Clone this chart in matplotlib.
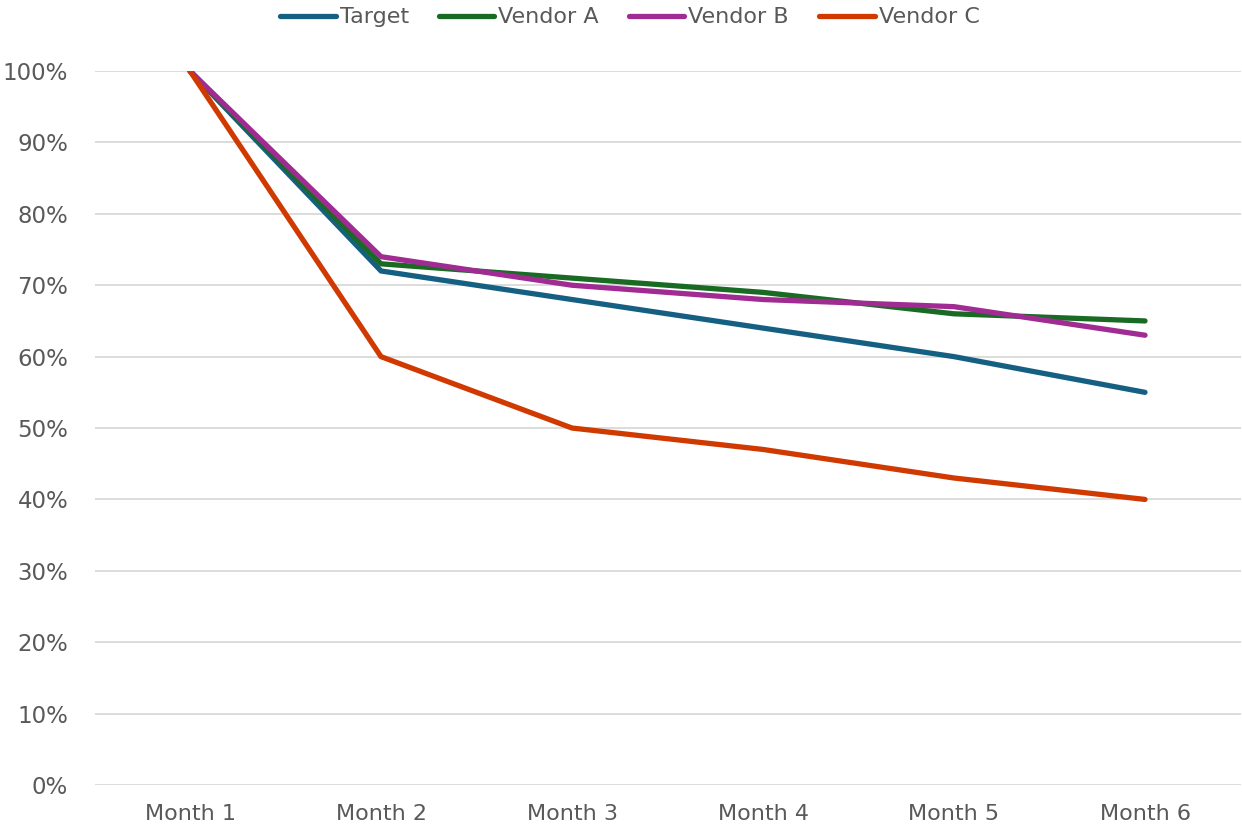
import matplotlib
matplotlib.use('Agg')
import matplotlib.pyplot as plt
from matplotlib.ticker import PercentFormatter

# ── DONNEES ────────────────────────────────────────────
months = ["Month 1", "Month 2", "Month 3", "Month 4", "Month 5", "Month 6"]
target   = [1.00, 0.72, 0.68, 0.64, 0.60, 0.55]
vendor_a = [1.00, 0.73, 0.71, 0.69, 0.66, 0.65]
vendor_b = [1.00, 0.74, 0.70, 0.68, 0.67, 0.63]
vendor_c = [1.00, 0.60, 0.50, 0.47, 0.43, 0.40]

series = [("Target", target, "#156082"),
          ("Vendor A", vendor_a, "#196B24"),
          ("Vendor B", vendor_b, "#A02B93"),
          ("Vendor C", vendor_c, "#D03A00")]

fig = plt.figure(figsize=(12.42, 8.36), dpi=100)
ax = fig.add_axes([0.0761, 0.061, 0.9227, 0.854])

x = list(range(len(months)))
for name, vals, col in series:
    ax.plot(x, vals, color=col, linewidth=3.8, label=name,
            solid_capstyle='round', solid_joinstyle='round')

ax.set_xlim(-0.5, len(months) - 0.5)
ax.set_ylim(0, 1.0)
ax.set_yticks([i / 10 for i in range(11)])
ax.yaxis.set_major_formatter(PercentFormatter(1.0, decimals=0))
ax.set_xticks(x)
ax.set_xticklabels(months)
ax.grid(axis='y', color='#d9d9d9', linewidth=1.3)
ax.set_axisbelow(True)
for s in ax.spines.values():
    s.set_visible(False)
ax.tick_params(axis='both', length=0, colors='#595959')
ax.tick_params(axis='y', pad=19, labelsize=16.5)
ax.tick_params(axis='x', pad=14, labelsize=16)

leg = fig.legend(loc='upper center', bbox_to_anchor=(0.507, 1.015), ncol=4,
                 frameon=False, handlelength=2.5, handletextpad=0.18,
                 columnspacing=1.35, fontsize=16)
for t in leg.get_texts():
    t.set_color('#595959')

fig.savefig('out.png', dpi=100)
